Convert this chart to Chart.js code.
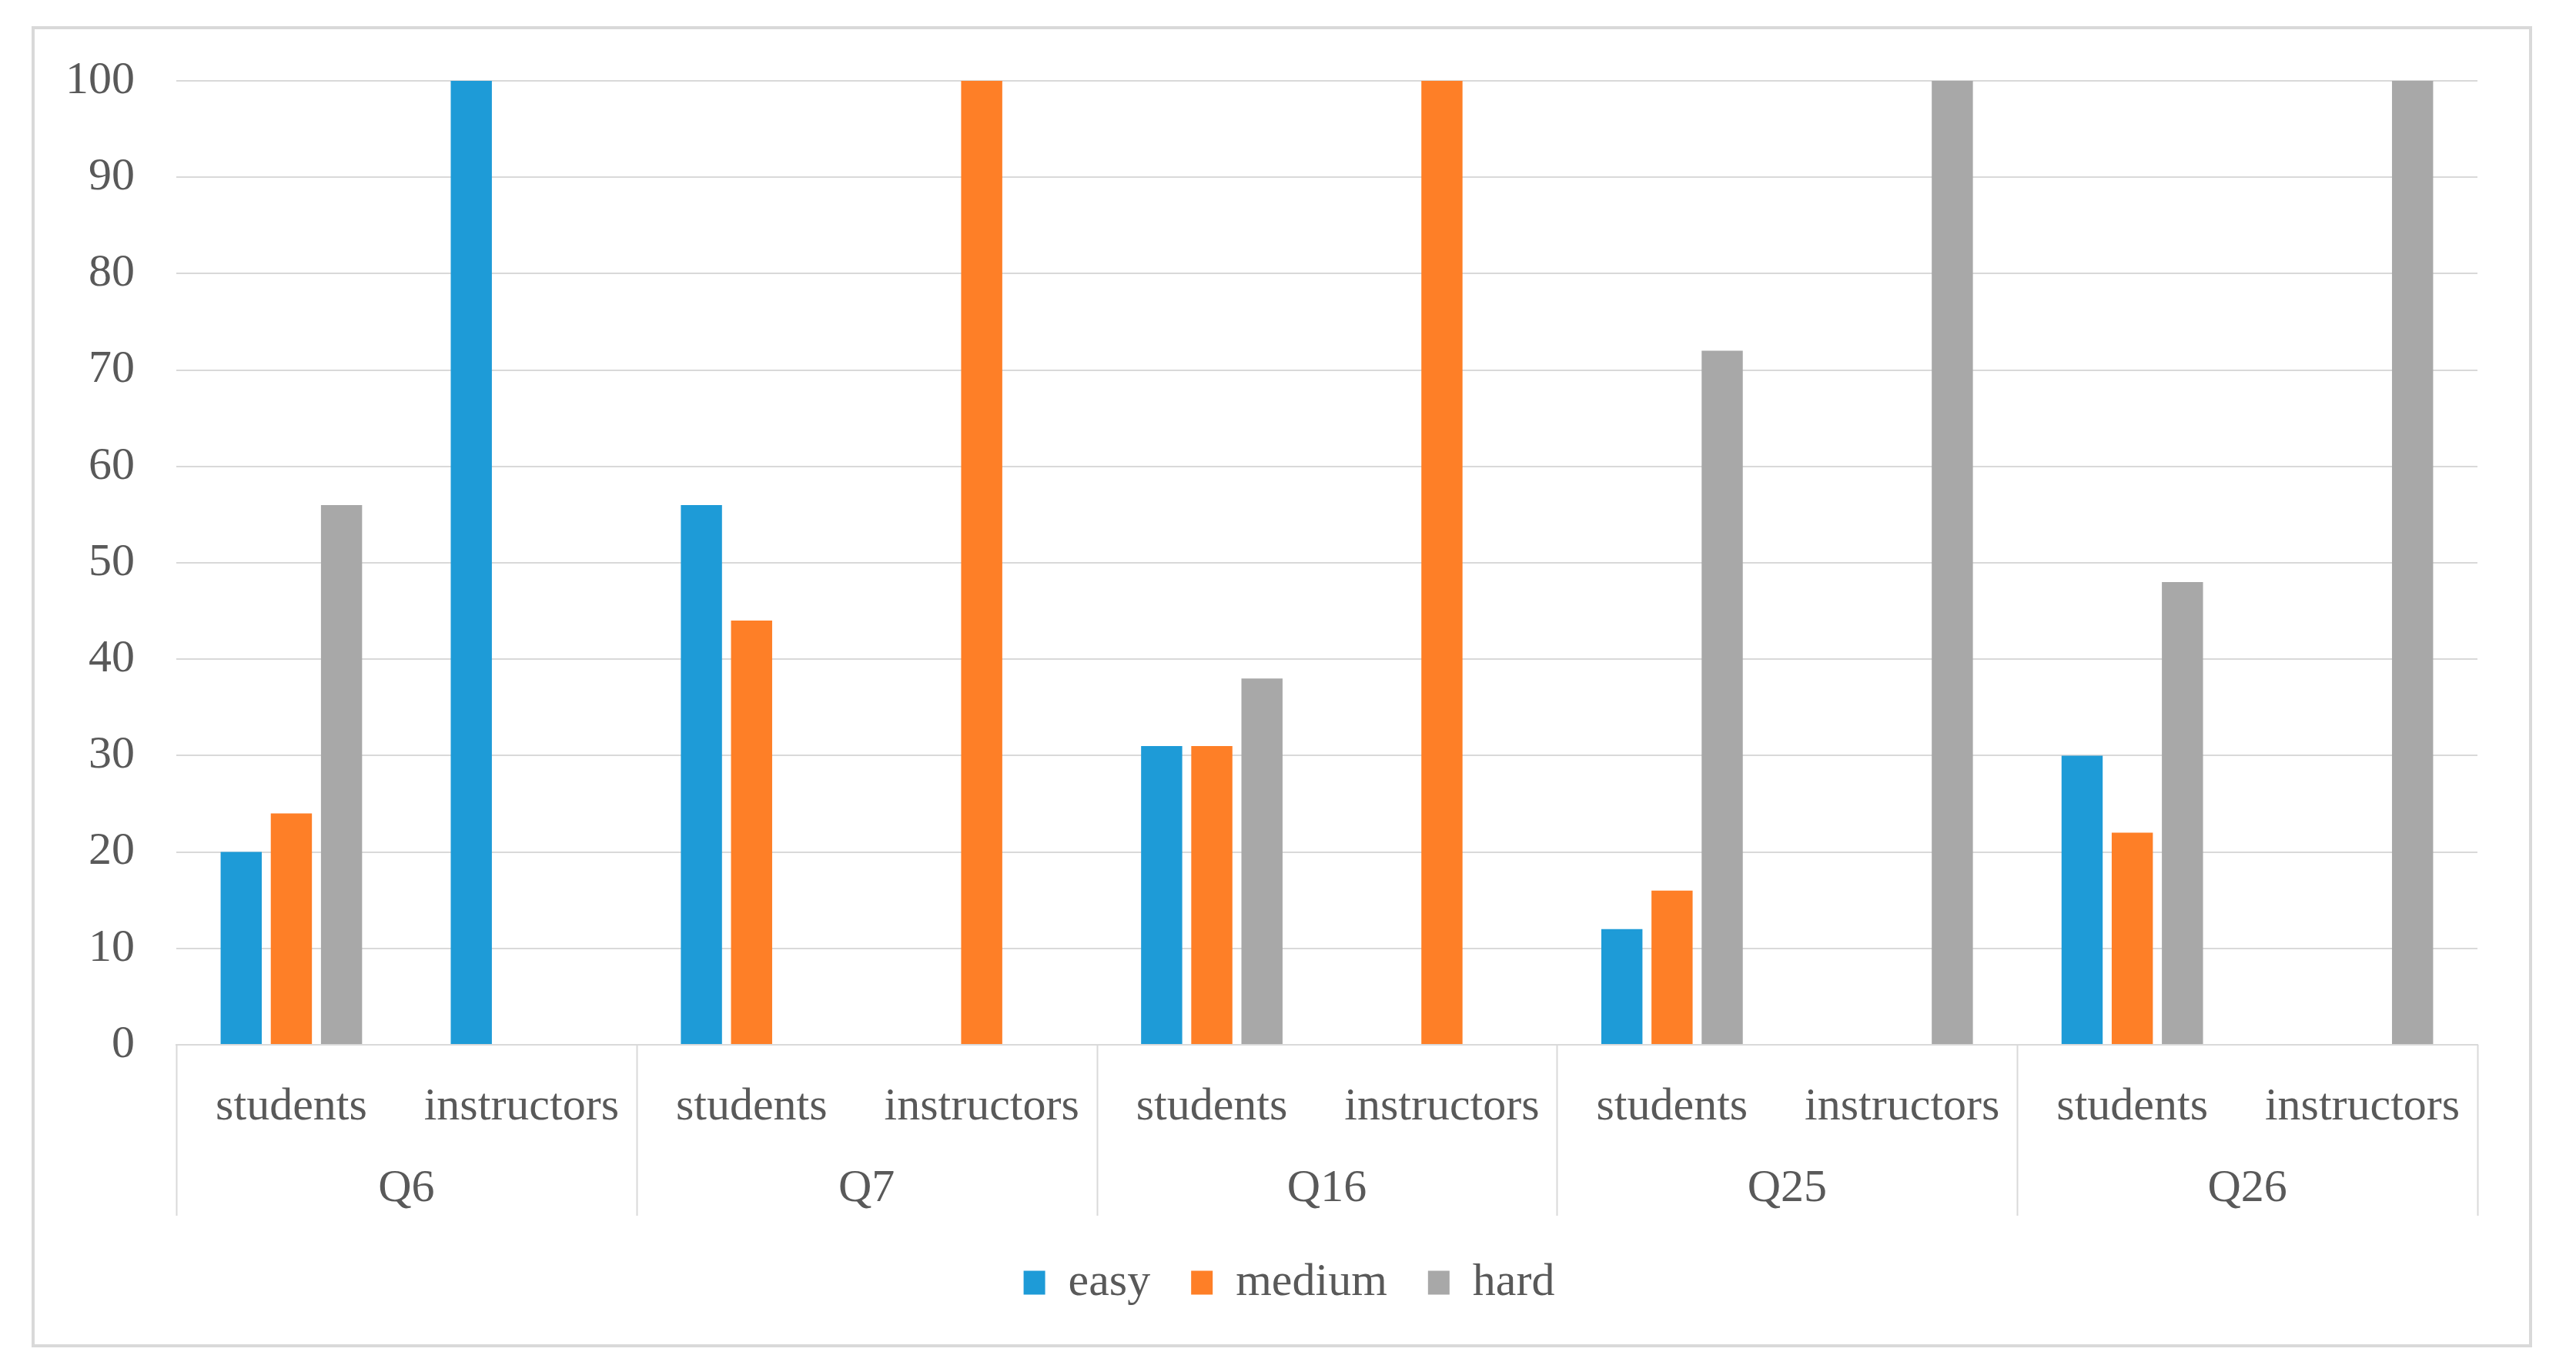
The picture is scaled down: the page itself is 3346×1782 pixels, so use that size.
<!DOCTYPE html>
<html>
<head>
<meta charset="utf-8">
<script src="https://cdn.jsdelivr.net/npm/chart.js@4.4.1/dist/chart.umd.min.js"></script>
<style>
  html, body { margin: 0; padding: 0; background: #fff; }
  #wrap {
    position: absolute; left: 41px; top: 34px;
    width: 3248px; height: 1716px;
    border: 4px solid #d9d9d9; box-sizing: border-box;
  }
</style>
</head>
<body>
<div id="wrap"><canvas id="chart"></canvas></div>
<script>
'use strict';

/* ── Data ─────────────────────────────────────────────────────── */
const groups  = ['Q6', 'Q7', 'Q16', 'Q25', 'Q26'];
const roles   = ['students', 'instructors'];
const labels  = groups.flatMap(() => roles);

const easy    = [20, 100, 56,   0, 31,   0, 12,   0, 30,   0];
const medium  = [24,   0, 44, 100, 31, 100, 16,   0, 22,   0];
const hard    = [56,   0,  0,   0, 38,   0, 72, 100, 48, 100];

const yTicks  = [0, 10, 20, 30, 40, 50, 60, 70, 80, 90, 100];

/* ── Style ────────────────────────────────────────────────────── */
const FONT  = { family: "'Liberation Serif', 'Times New Roman', serif", size: 60 };
const TEXT  = '#595959';
const GRID  = '#d9d9d9';

/* ── Group separators below the axis, from the x2 scale ───────── */
const groupSeparators = {
  id: 'groupSeparators',
  afterLayout(chart) {
    // Excel puts the legend a little right of the canvas middle and lower
    chart.legend.left += 43;
    chart.legend.right += 43;
    chart.legend.top += 4;
    chart.legend.bottom += 4;
  },
  afterDraw(chart) {
    const x2 = chart.scales.x2;
    const top = chart.chartArea.bottom;
    const ctx = chart.ctx;
    ctx.save();
    ctx.strokeStyle = GRID;
    ctx.lineWidth = 2;
    for (let i = 0; i <= groups.length; i++) {
      const px = Math.round(x2.getPixelForValue(i - 0.5)) + 0.5;
      ctx.beginPath();
      ctx.moveTo(px, top);
      ctx.lineTo(px, x2.bottom);
      ctx.stroke();
    }
    ctx.restore();
  }
};

const bar = (label, data, color) => ({
  label, data,
  backgroundColor: color,
  borderWidth: 0,
  categoryPercentage: 0.654,
  barPercentage: 0.82,
});

new Chart(document.getElementById('chart'), {
  type: 'bar',
  data: {
    labels,
    datasets: [
      bar('easy',   easy,   '#1e9bd7'),
      bar('medium', medium, '#fe7f27'),
      bar('hard',   hard,   '#a8a8a8'),
    ]
  },
  plugins: [groupSeparators],
  options: {
    responsive: true,
    maintainAspectRatio: false,
    animation: false,
    devicePixelRatio: 1,
    layout: { padding: { top: 67, right: 67, bottom: 44, left: 0 } },
    plugins: {
      tooltip: { enabled: false },
      legend: {
        position: 'bottom',
        labels: {
          font: FONT, color: TEXT,
          boxWidth: 28, boxHeight: 31, padding: 53,
        }
      }
    },
    scales: {
      y: {
        min: 0, max: 100,
        afterBuildTicks: s => { s.ticks = yTicks.map(v => ({ value: v })); },
        afterFit: s => { s.width = 184; s.paddingTop = 0; s.paddingBottom = 0; },
        ticks: { font: FONT, color: TEXT, padding: 54 },
        grid: { color: GRID, lineWidth: 2, drawTicks: false },
        border: { display: false },
      },
      x: {
        weight: 0,
        afterFit: s => { s.height = 130; },
        ticks: { font: FONT, color: TEXT, padding: 45, maxRotation: 0, autoSkip: false },
        grid: { display: false, drawTicks: false },
        border: { display: true, color: GRID, width: 2 },
      },
      x2: {
        type: 'category',
        labels: groups,
        position: 'bottom',
        offset: true,
        weight: 1,
        afterFit: s => { s.height = 92; },
        ticks: { font: FONT, color: TEXT, padding: 21, maxRotation: 0, autoSkip: false },
        grid: { display: false, drawTicks: false },
        border: { display: false },
      }
    }
  }
});
</script>
</body>
</html>
